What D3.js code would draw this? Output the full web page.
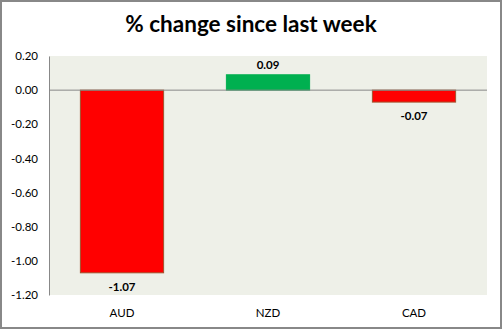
<!DOCTYPE html>
<html>
<head>
<meta charset="utf-8">
<script src="https://cdn.jsdelivr.net/npm/d3@7"></script>
<style>
  html, body { margin: 0; padding: 0; background: #fff; }
  svg { display: block; }
  text { font-family: Lato, "Open Sans", "Liberation Sans", sans-serif; }
</style>
</head>
<body>
<svg id="chart" width="502" height="329"></svg>
<script>
// Weekly % change per currency
const categories = ["AUD", "NZD", "CAD"];
const values = [-1.07, 0.09, -0.07];
const tickValues = [0.2, 0, -0.2, -0.4, -0.6, -0.8, -1.0, -1.2];
const title = "% change since last week";

const W = 502, H = 329;
const plot = { left: 49, right: 487, top: 56, bottom: 295 };

const svg = d3.select("#chart");

// outer frame
svg.append("rect")
  .attr("x", 1).attr("y", 1)
  .attr("width", W - 2).attr("height", H - 2)
  .attr("fill", "#fff")
  .attr("stroke", "#888").attr("stroke-width", 2);

svg.append("text")
  .attr("x", W / 2).attr("y", 32)
  .attr("text-anchor", "middle")
  .attr("font-size", 22.5).attr("font-weight", "bold")
  .attr("fill", "#000")
  .text(title);

const x = d3.scaleBand()
  .domain(categories)
  .range([plot.left, plot.right])
  .paddingInner(0.43).paddingOuter(0.215);

const xOuter = d3.scaleBand()
  .domain(categories)
  .range([plot.left, plot.right]);

const y = d3.scaleLinear()
  .domain([-1.2, 0.2])
  .range([plot.bottom, plot.top]);

// plot background
svg.append("rect")
  .attr("x", plot.left).attr("y", plot.top)
  .attr("width", plot.right - plot.left)
  .attr("height", plot.bottom - plot.top)
  .attr("fill", "#eef0e8");

// y axis
const yAxis = svg.append("g")
  .attr("transform", `translate(${plot.left},0)`)
  .call(d3.axisLeft(y).tickValues(tickValues).tickFormat(d3.format(".2f")).tickSize(0).tickPadding(11));
yAxis.select(".domain").attr("stroke", "#888").attr("stroke-width", 1);
yAxis.selectAll("text").attr("font-size", 11.5).attr("fill", "#000")
  .text(d => d3.format(".2f")(d).replace("−", "-"));

// bars
svg.append("g").selectAll("rect")
  .data(values)
  .join("rect")
  .attr("x", (d, i) => x(categories[i]))
  .attr("width", x.bandwidth())
  .attr("y", d => y(Math.max(0, d)))
  .attr("height", d => Math.abs(y(d) - y(0)))
  .attr("fill", d => d < 0 ? "#ff0000" : "#00b050")
  .attr("stroke", d => d < 0 ? "#a0522d" : "#00b050")
  .attr("stroke-width", 1);

// zero line
svg.append("line")
  .attr("x1", plot.left).attr("x2", plot.right)
  .attr("y1", y(0)).attr("y2", y(0))
  .attr("stroke", "#888").attr("stroke-width", 1);

// value labels
svg.append("g").selectAll("text")
  .data(values)
  .join("text")
  .attr("x", (d, i) => x(categories[i]) + x.bandwidth() / 2)
  .attr("y", d => d < 0 ? y(d) + 18 : y(d) - 6)
  .attr("text-anchor", "middle")
  .attr("font-size", 11.5).attr("font-weight", "bold")
  .attr("fill", "#000")
  .text(d => d3.format(".2f")(d).replace("−", "-"));

// category labels
svg.append("g").selectAll("text")
  .data(categories)
  .join("text")
  .attr("x", d => xOuter(d) + xOuter.bandwidth() / 2)
  .attr("y", 317)
  .attr("text-anchor", "middle")
  .attr("font-size", 11.5)
  .attr("fill", "#000")
  .text(d => d);
</script>
</body>
</html>
